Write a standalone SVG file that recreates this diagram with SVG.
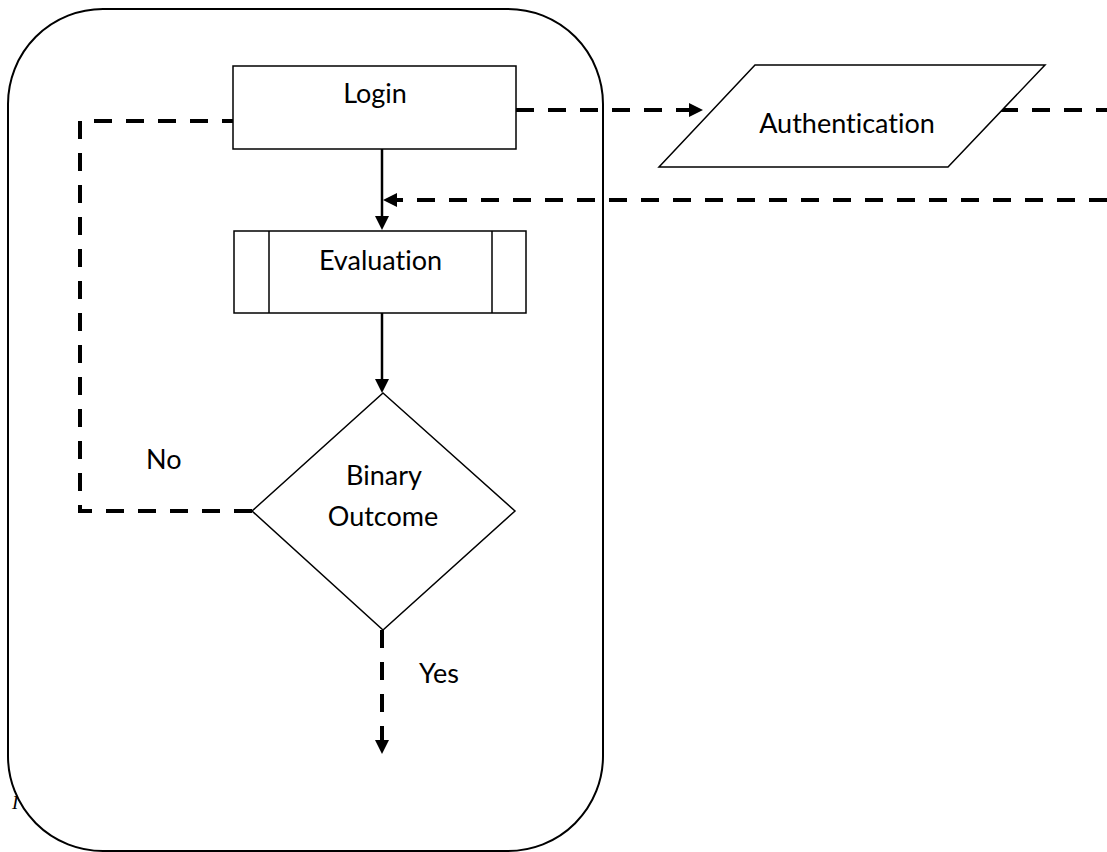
<svg xmlns="http://www.w3.org/2000/svg" width="1107" height="852" viewBox="0 0 1107 852">
  <defs>
    <style>
      .shape { fill: #ffffff; stroke: #000000; stroke-width: 1.5; }
      .frame { fill: #ffffff; stroke: #000000; stroke-width: 2; }
      .lbl { font-family: Lato, "Liberation Sans", sans-serif; font-size: 27px; fill: #000000; font-variant-ligatures: none; font-feature-settings: "liga" 0, "dlig" 0; }
      .solid { fill: none; stroke: #000000; stroke-width: 2.5; }
      .dash { fill: none; stroke: #000000; stroke-width: 4; stroke-dasharray: 18 14; }
    </style>
    <marker id="head" markerUnits="userSpaceOnUse" viewBox="0 0 14 14" markerWidth="14" markerHeight="14" refX="0" refY="7" orient="auto">
      <path d="M0,0 L14,7 L0,14 Z" fill="#000000" stroke="none"/>
    </marker>
  </defs>
  <rect width="1107" height="852" fill="#ffffff"/>

  <text x="12" y="809" font-family="'Liberation Serif', serif" font-style="italic" font-size="19" fill="#000000">I</text>
  <g id="container">
    <rect class="frame" x="8" y="9" width="595" height="842" rx="95" ry="95"/>
  </g>

  <g id="connectors">
    <path class="solid" d="M382,149 V216" marker-end="url(#head)"/>
    <path class="solid" d="M382,313 V379" marker-end="url(#head)"/>
    <path class="dash" d="M516,110 H689" marker-end="url(#head)"/>
    <path class="dash" d="M1000,110 H1107"/>
    <path class="dash" d="M1107,200 H397" marker-end="url(#head)"/>
    <path class="dash" d="M252,511 H80 V121 H233"/>
    <path class="dash" d="M382,630 V740" marker-end="url(#head)"/>
  </g>

  <g id="login">
    <rect class="shape" x="233" y="66" width="283" height="83"/>
    <text class="lbl" x="375" y="103" text-anchor="middle">Login</text>
  </g>

  <g id="authentication">
    <polygon class="shape" points="755,65 1045,65 948,167 659,167"/>
    <text class="lbl" x="847" y="133" text-anchor="middle">Authentication</text>
  </g>

  <g id="evaluation">
    <rect class="shape" x="234" y="231" width="292" height="82"/>
    <line class="shape" x1="269" y1="231" x2="269" y2="313"/>
    <line class="shape" x1="492" y1="231" x2="492" y2="313"/>
    <text class="lbl" x="380.5" y="270" text-anchor="middle">Evaluation</text>
  </g>

  <g id="decision">
    <polygon class="shape" points="383,393 515,511 383,630 252,511"/>
    <text class="lbl" x="384" y="485" text-anchor="middle">Binary</text>
    <text class="lbl" x="383" y="526" text-anchor="middle">Outcome</text>
  </g>

  <g id="labels">
    <text class="lbl" x="146" y="469">No</text>
    <text class="lbl" x="419" y="683">Yes</text>
  </g>
</svg>
